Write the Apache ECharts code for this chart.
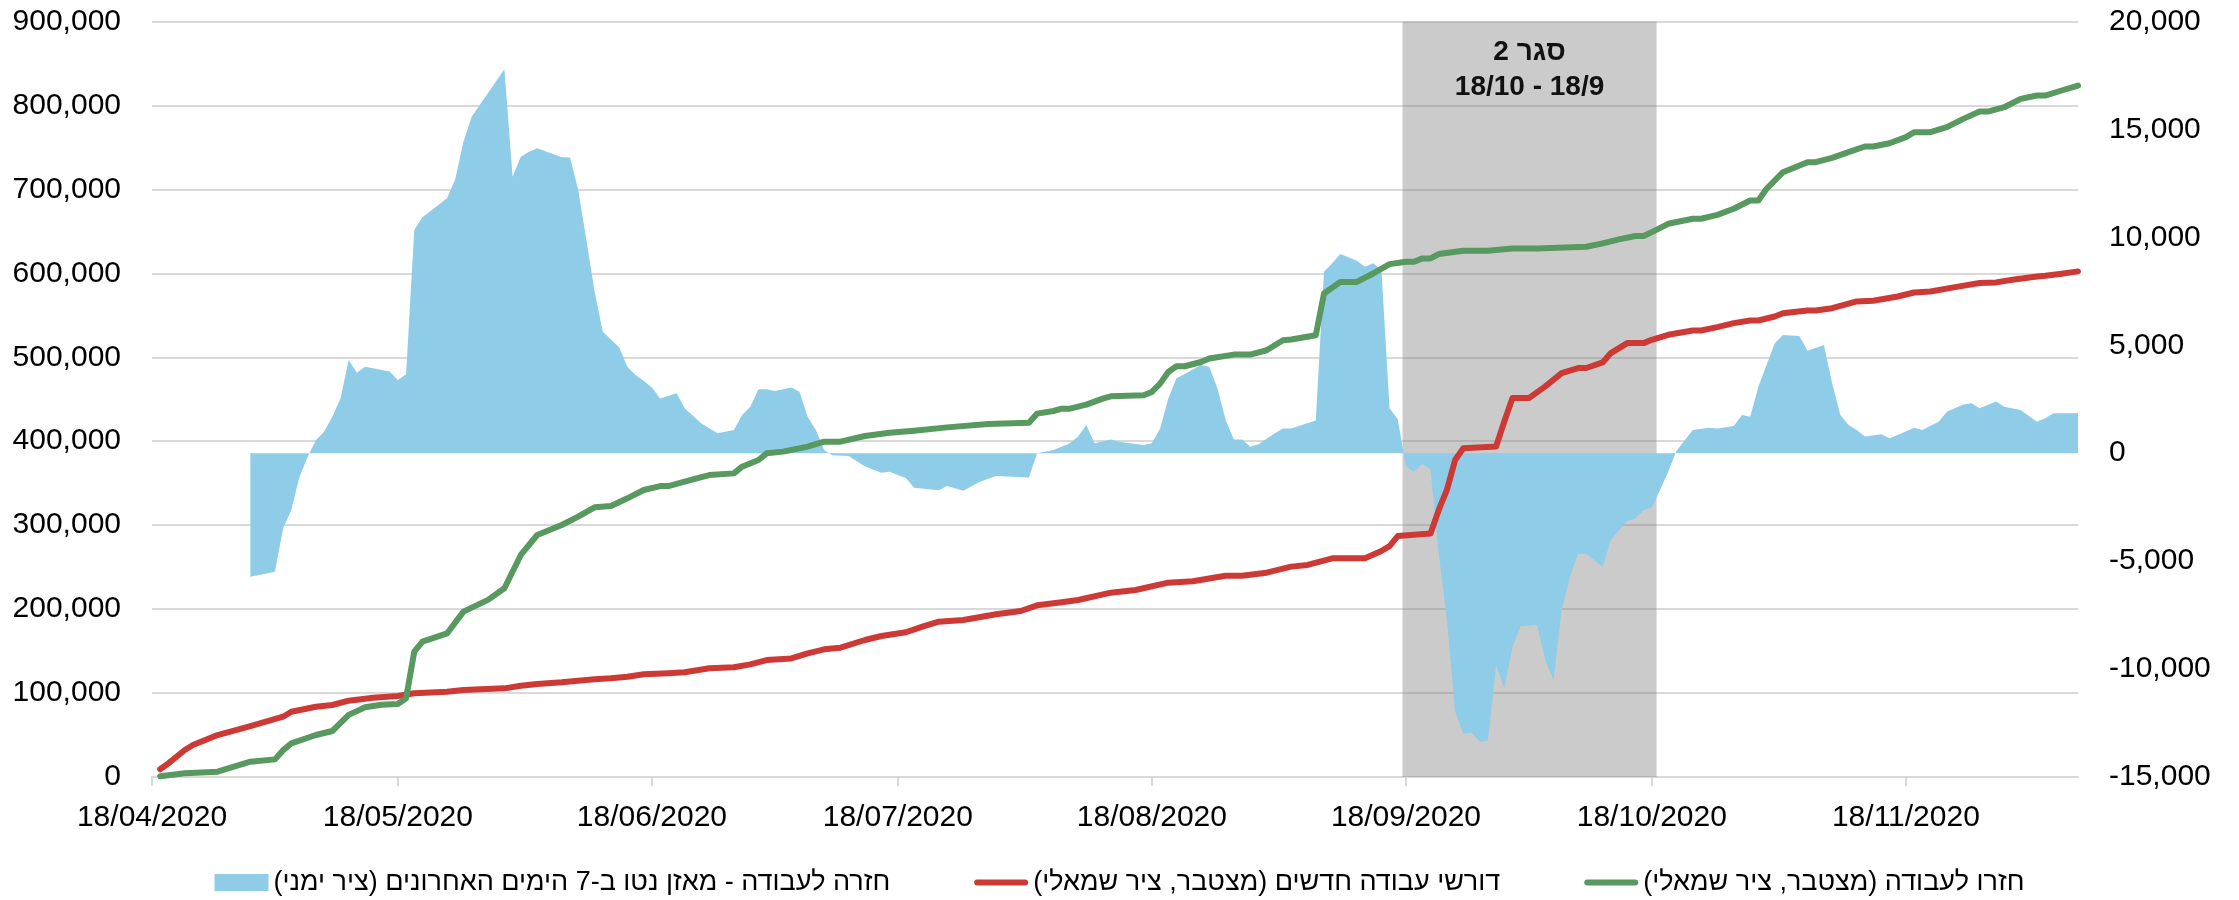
<!DOCTYPE html>
<html>
<head>
<meta charset="utf-8">
<title>חזרה לעבודה ודורשי עבודה חדשים</title>
<script src="https://cdn.jsdelivr.net/npm/echarts@6/dist/echarts.min.js"></script>
<style>
  html, body { margin: 0; padding: 0; background: #fff; }
  #chart { width: 2239px; height: 900px; }
</style>
</head>
<body>
<div id="chart"></div>
<script>
// ticks on the 18th of every month
var tickDates = ['2020-04-18', '2020-05-18', '2020-06-18', '2020-07-18', '2020-08-18', '2020-09-18', '2020-10-18', '2020-11-18']

// returned to work, cumulative (left axis)
var greenDates = ['04-19','04-22','04-26','04-30','05-03','05-04','05-05','05-08','05-10','05-12','05-14','05-16','05-18','05-19','05-20','05-21','05-24','05-26','05-29','05-31','06-02','06-04','06-07','06-09','06-11','06-13','06-15','06-17','06-19','06-20','06-23','06-25','06-28','06-29','07-01','07-02','07-04','07-07','07-09','07-11','07-14','07-17','07-20','07-24','07-29','08-03','08-04','08-06','08-07','08-08','08-10','08-12','08-13','08-17','08-18','08-19','08-20','08-21','08-22','08-24','08-25','08-28','08-30','09-01','09-03','09-04','09-07','09-08','09-10','09-12','09-14','09-16','09-18','09-19','09-20','09-21','09-22','09-25','09-28','10-01','10-04','10-10','10-12','10-14','10-16','10-17','10-18','10-20','10-23','10-24','10-26','10-28','10-30','10-31','11-01','11-03','11-06','11-07','11-09','11-11','11-13','11-14','11-16','11-18','11-19','11-21','11-23','11-25','11-27','11-28','11-30','12-02','12-04','12-05','12-07','12-09']
var greenValues = [1000,4400,6300,18200,21000,32000,40000,50000,54800,74000,83000,86000,87000,93700,149300,161200,171000,197000,211000,224800,264500,288300,300200,310100,321300,322800,332000,341900,346600,346600,354600,359700,361700,369700,377600,385600,387600,393500,399500,399500,406200,410100,412500,416500,420500,422000,432900,436000,438800,438800,443600,450800,453500,454700,458700,468600,482500,489300,489300,494400,498500,503200,503200,508400,520300,521100,526200,576000,589800,589800,599800,611000,613800,613800,617800,617800,623000,627000,627000,629700,629700,631700,635700,640400,644400,644400,649100,659000,665000,665000,669700,676900,686800,686800,700700,720500,732400,732400,737600,744300,751100,751100,755000,762200,768100,768100,774100,784000,792700,792700,797900,807800,811800,811800,817800,823700]

// new job seekers, cumulative (left axis)
var redDates = ['04-19','04-20','04-22','04-23','04-26','04-30','05-04','05-05','05-08','05-10','05-12','05-15','05-18','05-20','05-24','05-26','05-31','06-02','06-04','06-07','06-11','06-13','06-15','06-17','06-20','06-22','06-25','06-28','06-30','07-02','07-05','07-07','07-09','07-11','07-14','07-16','07-19','07-21','07-23','07-26','07-30','08-02','08-04','08-07','08-09','08-13','08-16','08-20','08-23','08-27','08-29','09-01','09-04','09-06','09-09','09-13','09-15','09-16','09-17','09-21','09-22','09-23','09-24','09-25','09-29','09-30','10-01','10-03','10-05','10-07','10-09','10-10','10-12','10-13','10-15','10-17','10-18','10-20','10-23','10-24','10-26','10-28','10-30','10-31','11-02','11-03','11-06','11-07','11-09','11-12','11-14','11-17','11-19','11-21','11-24','11-27','11-29','12-01','12-04','12-05','12-07','12-09']
var redValues = [9200,16300,32200,38100,50000,60700,71800,77800,83700,85800,90900,94500,96500,99700,101600,103600,105600,108800,110800,112800,116400,117600,119500,122300,123500,124700,129500,130700,134200,139300,141300,147300,152100,154000,163200,168000,172400,179100,185000,187000,193800,197700,204500,208100,210900,219600,222800,231500,233100,239800,239800,243400,250600,252600,260500,260500,269200,275100,287000,290200,318100,342000,377700,391700,393700,423500,451400,451400,465300,481200,487200,487200,493900,505000,516900,516900,520800,526800,531900,531900,535900,540700,543800,543800,548600,552500,555700,555700,558500,566500,567300,572400,577200,578400,583600,588400,589200,592400,596300,597100,599500,602300]

// net balance over last 7 days (right axis)
var blueDates = ['04-30','05-03','05-04','05-05','05-06','05-07','05-08','05-09','05-10','05-11','05-12','05-13','05-14','05-17','05-18','05-19','05-20','05-21','05-24','05-25','05-26','05-27','05-31','06-01','06-02','06-03','06-04','06-07','06-08','06-09','06-10','06-11','06-12','06-14','06-15','06-16','06-17','06-18','06-19','06-21','06-22','06-24','06-26','06-28','06-29','06-30','07-01','07-02','07-03','07-05','07-06','07-07','07-08','07-09','07-10','07-12','07-14','07-16','07-17','07-19','07-20','07-23','07-24','07-26','07-28','07-30','08-03','08-04','08-06','08-08','08-09','08-10','08-11','08-13','08-14','08-17','08-18','08-19','08-20','08-21','08-22','08-24','08-25','08-26','08-27','08-28','08-29','08-30','08-31','09-02','09-03','09-04','09-07','09-08','09-09','09-10','09-12','09-13','09-14','09-15','09-16','09-17','09-18','09-19','09-20','09-21','09-22','09-23','09-24','09-25','09-26','09-27','09-28','09-29','09-30','10-01','10-02','10-04','10-05','10-06','10-07','10-08','10-09','10-10','10-12','10-13','10-14','10-15','10-16','10-17','10-18','10-19','10-20','10-21','10-23','10-25','10-26','10-28','10-29','10-30','10-31','11-01','11-02','11-03','11-05','11-06','11-08','11-09','11-10','11-11','11-12','11-13','11-15','11-16','11-17','11-19','11-20','11-22','11-23','11-25','11-26','11-27','11-29','11-30','12-02','12-03','12-04','12-05','12-06','12-09']
var blueValues = [-5720,-5490,-3480,-2630,-1090,-160,610,1000,1690,2540,4320,3730,4010,3780,3390,3660,10340,10930,11810,12690,14430,15590,17790,12810,13740,13970,14130,13710,13700,12200,9880,7500,5630,4910,4010,3620,3350,3050,2540,2780,2080,1390,920,1080,1770,2150,2960,2960,2880,3040,2850,1690,1080,150,-100,-130,-620,-900,-860,-1160,-1600,-1710,-1520,-1740,-1320,-1060,-1120,0,150,460,770,1310,460,640,530,380,460,1150,2540,3470,3670,4090,4010,3010,1540,640,640,300,410,920,1150,1150,1510,8410,8800,9230,8920,8640,8800,8520,2080,1570,-620,-860,-500,-750,-4640,-7730,-11980,-12980,-12950,-13370,-13320,-9810,-10890,-8970,-8010,-7960,-9580,-10510,-7270,-5720,-4670,-4670,-5260,-4020,-3560,-3130,-3020,-2630,-2510,-1700,-860,100,1070,1180,1150,1260,1770,1690,3080,4090,5090,5480,5430,4750,5010,3240,1770,1310,1070,770,880,690,840,1180,1070,1460,1920,2260,2310,2080,2390,2150,2000,1720,1460,1620,1850,1850]

// second lockdown shading
var lockdownLabel = 'סגר 2\n18/10 - 18/9'

var blueName = 'חזרה לעבודה - מאזן נטו ב-7 הימים האחרונים (ציר ימני)\u200F'
var redName = 'דורשי עבודה חדשים (מצטבר, ציר שמאלי)\u200F'
var greenName = 'חזרו לעבודה (מצטבר, ציר שמאלי)\u200F'

var FONT = "'Liberation Sans', 'DejaVu Sans', sans-serif"
var BLUE = '#8ECCE8'
var RED = '#CD3A35'
var GREEN = '#57995F'
// thick line with round ends for the legend
var LINE_ICON = 'path://M3,0 L51,0 A3,3 0 0 1 51,6 L3,6 A3,3 0 0 1 3,0 Z'

function ts (s) {
  var p = s.split('-')
  return new Date(+p[0], +p[1] - 1, +p[2]).getTime()
}
function pad (n) { return n < 10 ? '0' + n : '' + n }
function fmtDate (v) {
  var d = new Date(v)
  return pad(d.getDate()) + '/' + pad(d.getMonth() + 1) + '/' + d.getFullYear()
}
function pairs (dates, values) {
  return dates.map(function (d, i) { return [ts('2020-' + d), values[i]] })
}

var tickValues = tickDates.map(ts)

var chart = echarts.init(document.getElementById('chart'))
var option = {
  animation: false,
  textStyle: { fontFamily: FONT },
  grid: { left: 152, right: 161, top: 21.5, bottom: 123, containLabel: false },
  legend: {
    top: 864,
    left: 'center',
    itemWidth: 54,
    itemHeight: 17,
    itemGap: 84,
    symbolKeepAspect: true,
    textStyle: { fontSize: 27, color: '#000', fontFamily: FONT },
    data: [
      { name: blueName, icon: 'rect' },
      { name: redName, icon: LINE_ICON },
      { name: greenName, icon: LINE_ICON }
    ]
  },
  xAxis: {
    // dates as timestamps on a value axis so ticks can sit on the 18th of each month
    type: 'value',
    min: ts('2020-04-18'),
    max: ts('2020-12-09'),
    axisLine: { show: true, onZero: false, lineStyle: { color: '#D9D9D9', width: 2 } },
    axisTick: { show: true, customValues: tickValues, length: 9, lineStyle: { color: '#D9D9D9', width: 2 } },
    axisLabel: { customValues: tickValues, formatter: fmtDate, color: '#000', fontSize: 30, margin: 26, fontFamily: FONT, hideOverlap: false },
    splitLine: { show: false }
  },
  yAxis: [
    {
      type: 'value',
      min: 0,
      max: 900000,
      interval: 100000,
      axisLine: { show: false },
      axisTick: { show: false },
      axisLabel: { color: '#000', fontSize: 30, margin: 31, fontFamily: FONT },
      splitLine: { show: true, lineStyle: { color: '#D9D9D9', width: 2 } }
    },
    {
      type: 'value',
      position: 'right',
      min: -15000,
      max: 20000,
      interval: 5000,
      axisLine: { show: false },
      axisTick: { show: false },
      axisLabel: { color: '#000', fontSize: 30, margin: 31, fontFamily: FONT },
      splitLine: { show: false }
    }
  ],
  series: [
    {
      name: blueName,
      type: 'line',
      yAxisIndex: 1,
      data: pairs(blueDates, blueValues),
      symbol: 'none',
      color: BLUE,
      lineStyle: { width: 0 },
      areaStyle: { color: BLUE, opacity: 1 },
      z: 1,
      silent: true
    },
    {
      name: redName,
      type: 'line',
      data: pairs(redDates, redValues),
      symbol: 'none',
      color: RED,
      lineStyle: { width: 6, color: RED, cap: 'round', join: 'round' },
      z: 3
    },
    {
      name: greenName,
      type: 'line',
      data: pairs(greenDates, greenValues),
      symbol: 'none',
      color: GREEN,
      lineStyle: { width: 6, color: GREEN, cap: 'round', join: 'round' },
      z: 4
    },
    {
      // grey overlay for the lockdown period, drawn above the data
      type: 'line',
      data: [],
      silent: true,
      z: 10,
      markArea: {
        silent: true,
        itemStyle: { color: 'rgba(126,126,126,0.4)' },
        label: {
          show: true,
          position: 'insideTop',
          distance: 13,
          formatter: lockdownLabel,
          fontSize: 28,
          fontWeight: 'bold',
          lineHeight: 35,
          color: '#111',
          align: 'center',
          fontFamily: FONT
        },
        data: [[
          { xAxis: new Date(2020, 8, 17, 14).getTime() },
          { xAxis: new Date(2020, 9, 18, 14).getTime() }
        ]]
      }
    }
  ]
}
chart.setOption(option)
</script>
</body>
</html>
